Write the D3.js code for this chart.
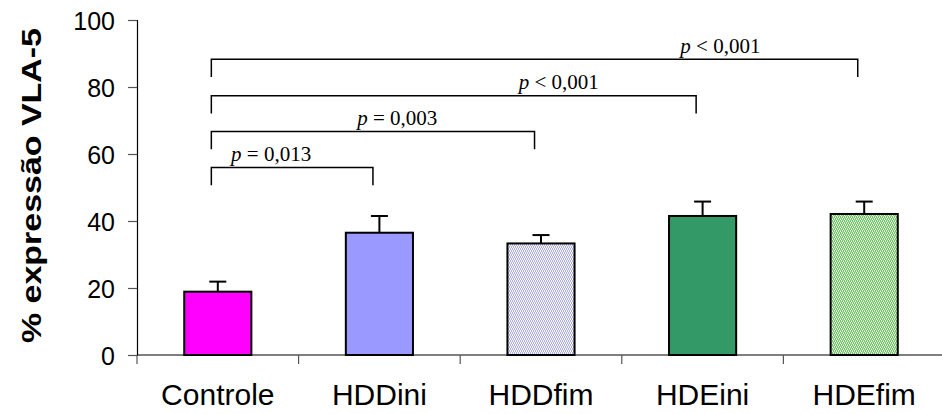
<!DOCTYPE html>
<html>
<head>
<meta charset="utf-8">
<script src="https://cdn.jsdelivr.net/npm/d3@7"></script>
<style>
  body { margin: 0; background: #fff; }
  .tick text { font-family: "Liberation Sans", Arial, sans-serif; fill: #000; }
  .ptext { font-family: "Liberation Serif", "Times New Roman", serif; font-size: 21px; }
</style>
</head>
<body>
<div id="chart"></div>
<script>
var groups = ['Controle','HDDini','HDDfim','HDEini','HDEfim'],
    means  = [18.9, 36.5, 33.3, 41.5, 42.1],
    errors = [3.0, 5.0, 2.5, 4.3, 3.7],
    yTicks = [0, 20, 40, 60, 80, 100];

// comparisons vs Controle
var cmpTarget = [1, 2, 3, 4],
    cmpLevel  = [56, 66.7, 77.4, 88.3],
    cmpSign   = ['=', '=', '<', '<'],
    cmpValue  = ['0,013', '0,003', '0,001', '0,001'],
    cmpLabelAt = [0.33, 1.11, 2.11, 3.11];

var width = 942, height = 414,
    margin = {top: 20, left: 137},
    plotW = 808, plotH = 335;

var svg = d3.select("#chart").append("svg")
    .attr("width", width)
    .attr("height", height);

// fill patterns for the "fim" bars
var defs = svg.append("defs");
function checker(id, c1, c2, c3) {
  var p = defs.append("pattern")
      .attr("id", id)
      .attr("patternUnits", "userSpaceOnUse")
      .attr("width", 4).attr("height", 4);
  p.append("rect").attr("width", 4).attr("height", 4).attr("fill", c1);
  // light dots on a coloured ground
  [[0,0],[2,1],[1,2],[3,3]].forEach(function(q) {
    p.append("rect").attr("x", q[0]).attr("y", q[1])
      .attr("width", 1).attr("height", 1).attr("fill", c2);
  });
  [[2,0],[0,1],[3,2],[1,3]].forEach(function(q) {
    p.append("rect").attr("x", q[0]).attr("y", q[1])
      .attr("width", 1).attr("height", 1).attr("fill", c3);
  });
}
checker("patHDD", "#adadf2", "#ffffcc", "#f2f2ff");
checker("patHDE", "#6cc47e", "#ffffcc", "#b6e3a8");

var fills = ['#ff00ff', '#9999ff', 'url(#patHDD)', '#339966', 'url(#patHDE)'];

var g = svg.append("g")
    .attr("transform", "translate(" + margin.left + "," + margin.top + ")");

var x = d3.scaleBand().domain(groups).range([0, plotW]).paddingInner(0.585).paddingOuter(0.29),
    xb = d3.scaleBand().domain(groups).range([0, plotW]),  // tick boundaries
    xi = d3.scaleLinear().domain([-0.5, 4.5]).range([0, plotW]), // annotation positions
    y = d3.scaleLinear().domain([0, 100]).range([plotH, 0]);

// bars
g.selectAll(".bar")
    .data(means)
  .enter().append("rect")
    .attr("class", "bar")
    .attr("x", function(d, i) { return xi(i) - x.bandwidth() / 2; })
    .attr("width", x.bandwidth())
    .attr("y", function(d) { return y(d); })
    .attr("height", function(d) { return y(0) - y(d); })
    .attr("fill", function(d, i) { return fills[i]; })
    .attr("stroke", "#000")
    .attr("stroke-width", 2);

// error bars (upper only)
var err = g.selectAll(".err")
    .data(means)
  .enter().append("g")
    .attr("class", "err")
    .attr("stroke", "#000")
    .attr("stroke-width", 2);
err.append("line")
    .attr("x1", function(d, i) { return xi(i); })
    .attr("x2", function(d, i) { return xi(i); })
    .attr("y1", function(d) { return y(d); })
    .attr("y2", function(d, i) { return y(d + errors[i]); });
err.append("line")
    .attr("x1", function(d, i) { return xi(i) - 8.5; })
    .attr("x2", function(d, i) { return xi(i) + 8.5; })
    .attr("y1", function(d, i) { return y(d + errors[i]); })
    .attr("y2", function(d, i) { return y(d + errors[i]); });

// y axis
var yAxis = g.append("g")
    .call(d3.axisLeft(y).tickValues(yTicks).tickSize(9).tickPadding(13));
yAxis.select(".domain").attr("stroke", "#000").attr("stroke-width", 1.2);
yAxis.selectAll(".tick line").attr("stroke", "#555").attr("stroke-width", 1.2);
yAxis.selectAll(".tick text").attr("font-size", 25).attr("dy", "0.36em");

// x axis, ticks between categories
var xAxis = g.append("g")
    .attr("transform", "translate(0," + plotH + ")");
xAxis.append("line")
    .attr("x1", 0).attr("x2", plotW)
    .attr("stroke", "#000").attr("stroke-width", 1.2);
xAxis.selectAll(".xt")
    .data(groups)
  .enter().append("line")
    .attr("class", "xt")
    .attr("x1", function(d) { return xb(d); })
    .attr("x2", function(d) { return xb(d); })
    .attr("y1", 0).attr("y2", 9)
    .attr("stroke", "#555").attr("stroke-width", 1.2);
xAxis.selectAll(".xl")
    .data(groups)
  .enter().append("text")
    .attr("class", "xl")
    .attr("x", function(d, i) { return xi(i); })
    .attr("y", 50)
    .attr("text-anchor", "middle")
    .attr("font-family", "Liberation Sans, Arial, sans-serif")
    .attr("font-size", 30)
    .text(function(d) { return d; });

// axis title
svg.append("text")
    .attr("transform", "translate(41," + (margin.top + plotH / 2 - 2) + ")rotate(-90)")
    .attr("text-anchor", "middle")
    .attr("font-family", "Liberation Sans, Arial, sans-serif")
    .attr("font-weight", "bold")
    .attr("font-size", 28)
    .attr("textLength", 315)
    .attr("lengthAdjust", "spacingAndGlyphs")
    .text("% expressão VLA-5");

// significance brackets
var br = g.selectAll(".br")
    .data(cmpTarget)
  .enter().append("g")
    .attr("class", "br");
br.append("path")
    .attr("fill", "none")
    .attr("stroke", "#000")
    .attr("stroke-width", 1.5)
    .attr("d", function(d, i) {
      var x0 = xi(-0.04), x1 = xi(d - 0.04), yl = y(cmpLevel[i]), yd = y(cmpLevel[i] - 5.3);
      return "M" + x0 + "," + yd + "V" + yl + "H" + x1 + "V" + yd;
    });
var pt = br.append("text")
    .attr("class", "ptext")
    .attr("x", function(d, i) { return xi(cmpLabelAt[i]); })
    .attr("y", function(d, i) { return y(cmpLevel[i]) - 6.5; })
    .attr("text-anchor", "middle");
pt.append("tspan").attr("font-style", "italic").text("p");
pt.append("tspan").text(function(d, i) { return " " + cmpSign[i] + " " + cmpValue[i]; });
</script>
</body>
</html>
